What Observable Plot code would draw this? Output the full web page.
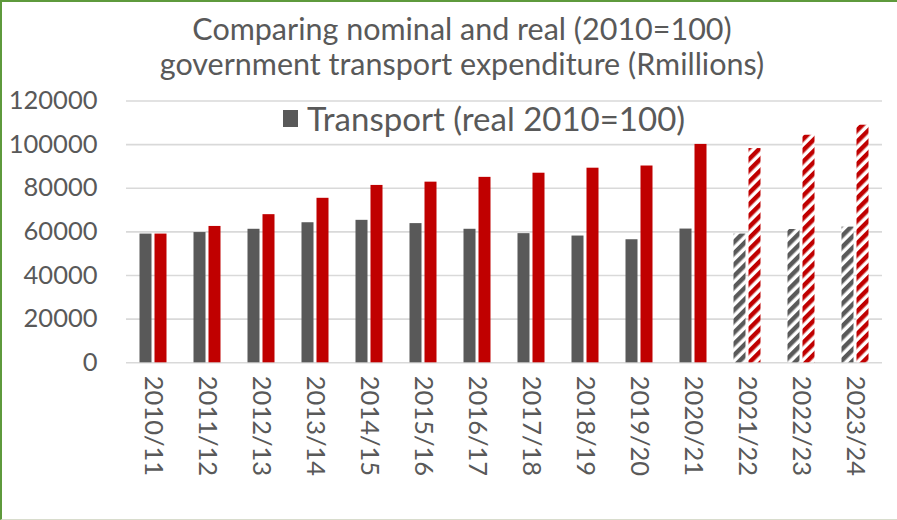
<!DOCTYPE html>
<html><head><meta charset="utf-8">
<script src="https://cdn.jsdelivr.net/npm/d3@7"></script>
<script src="https://cdn.jsdelivr.net/npm/@observablehq/plot@0.6"></script>
<style>
body{margin:0;background:#fff;}
#wrap{position:relative;width:897px;height:520px;overflow:hidden;font-family:Lato,"Open Sans",sans-serif;background:#fff;}
#title{position:absolute;left:0;width:924px;top:11px;text-align:center;color:#595959;font-size:30.5px;line-height:35px;z-index:2;}
#legend{position:absolute;left:283px;top:99px;height:38px;display:flex;align-items:center;color:#595959;font-size:33px;z-index:2;}
#legend .sw{width:15px;height:17px;background:#595959;margin-right:9px;}
#border{position:absolute;left:0;top:0;width:897px;height:520px;box-sizing:border-box;border-top:2px solid #5e9a3c;border-left:2px solid #5e9a3c;border-bottom:1px solid #d8dccc;pointer-events:none;z-index:3;}
#chart{position:absolute;left:0;top:0;}
</style></head>
<body>
<svg width="0" height="0" style="position:absolute">
<defs>
<pattern id="hatchRed" patternUnits="userSpaceOnUse" width="8" height="8" patternTransform="rotate(45)">
<rect width="8" height="8" fill="#ffffff"/><rect width="4.5" height="8" fill="#C00000"/>
</pattern>
<pattern id="hatchGray" patternUnits="userSpaceOnUse" width="8" height="8" patternTransform="rotate(45)">
<rect width="8" height="8" fill="#ffffff"/><rect width="4.5" height="8" fill="#595959"/>
</pattern>
</defs>
</svg>
<div id="wrap">
<div id="chart"></div>
<div id="title">Comparing nominal and real (2010=100)<br>government transport expenditure (Rmillions)</div>
<div id="legend"><div class="sw"></div><span>Transport (real 2010=100)</span></div>
<div id="border"></div>
</div>
<script>
const years = ["2010/11","2011/12","2012/13","2013/14","2014/15","2015/16","2016/17","2017/18","2018/19","2019/20","2020/21","2021/22","2022/23","2023/24"];
const realValues = [59000,59700,61200,64200,65300,63800,61200,59200,58100,56400,61300,59000,61100,62200];
const nominalValues = [59000,62500,67900,75400,81300,82800,85000,86900,89200,90200,100100,98200,104300,108900];
const projected = [false,false,false,false,false,false,false,false,false,false,false,true,true,true];
const yTicks = [0,20000,40000,60000,80000,100000,120000];

const rows = years.map((y,i)=>({year:y, real:realValues[i], nominal:nominalValues[i], projected:projected[i]}));
const actual = rows.filter(d=>!d.projected);
const proj = rows.filter(d=>d.projected);

const chart = Plot.plot({
  width: 897, height: 520,
  marginTop: 100.5, marginBottom: 157.7, marginLeft: 126, marginRight: 15,
  style: {fontFamily: "Lato, 'Open Sans', sans-serif", fontSize: "25.5px", color: "#595959", background: "transparent"},
  x: {domain: years, padding: 0, label: null, tickRotate: 90, tickSize: 0, tickPadding: 13},
  y: {domain: [0,120000], ticks: yTicks, tickFormat: d3.format("d"), label: null, tickSize: 0, tickPadding: 29},
  marks: [
    Plot.ruleY(yTicks, {stroke: "#d9d9d9", strokeWidth: 1.6}),
    Plot.barY(actual, {x: "year", y: "real", fill: "#595959", insetLeft: 13.5, insetRight: 28.5}),
    Plot.barY(actual, {x: "year", y: "nominal", fill: "#C00000", insetLeft: 28.5, insetRight: 13.5}),
    Plot.barY(proj, {x: "year", y: "real", fill: "url(#hatchGray)", insetLeft: 13.5, insetRight: 28.5}),
    Plot.barY(proj, {x: "year", y: "nominal", fill: "url(#hatchRed)", insetLeft: 28.5, insetRight: 13.5})
  ]
});
document.getElementById("chart").appendChild(chart);
</script>
</body></html>
